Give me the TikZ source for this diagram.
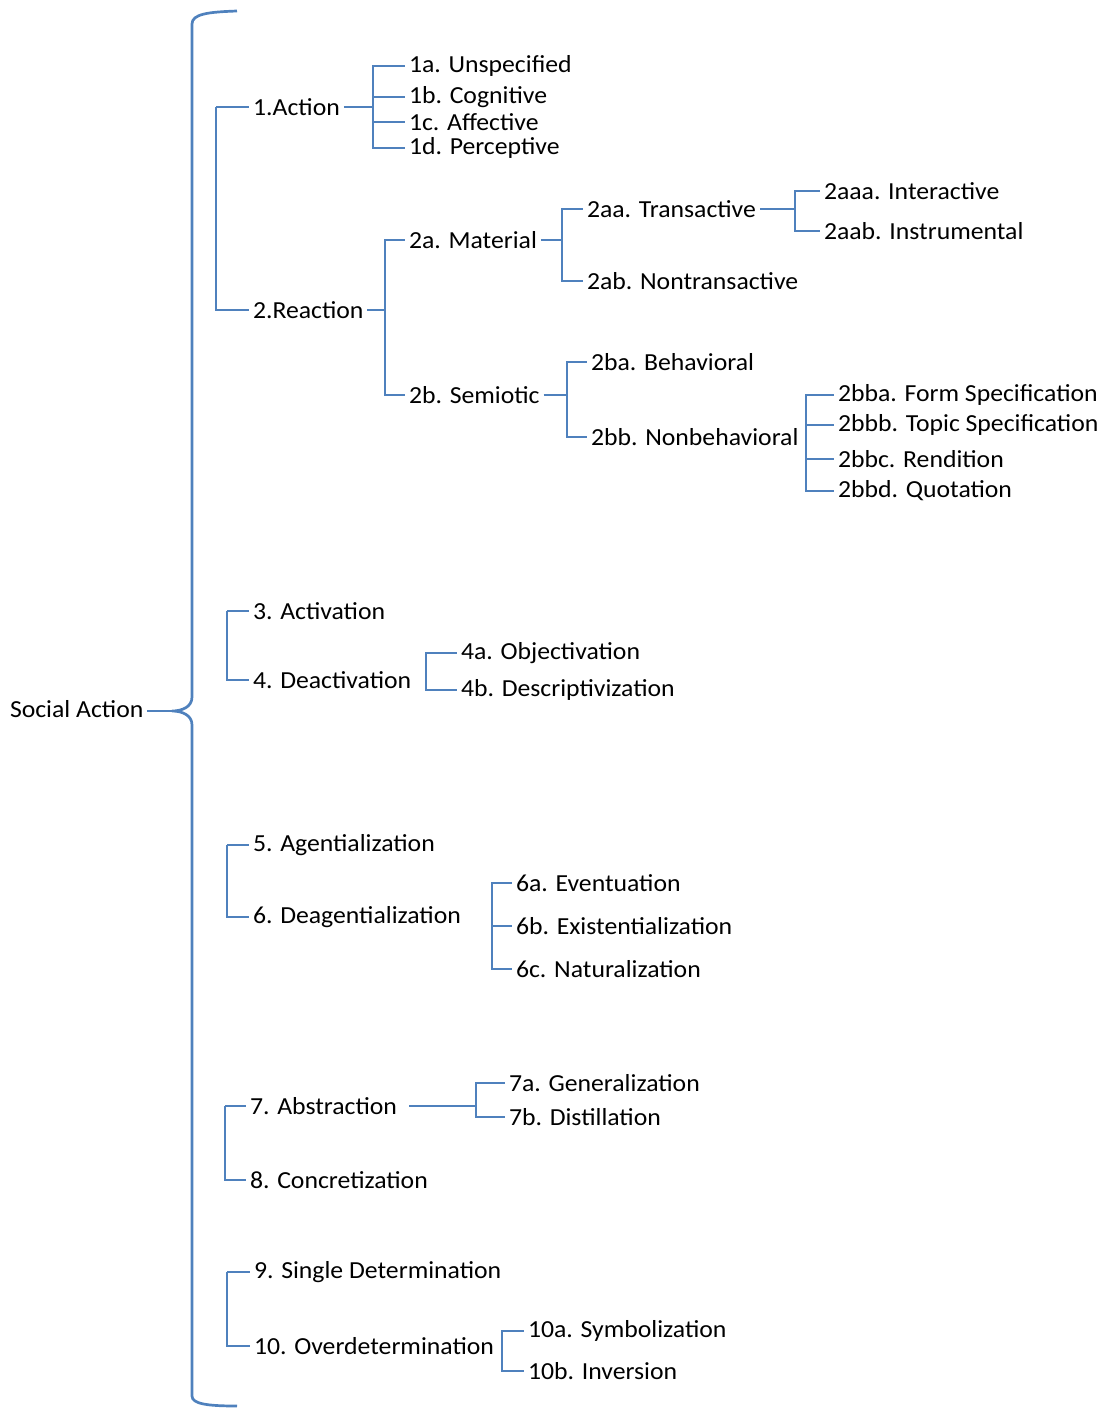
\documentclass[tikz,border=0pt]{standalone}
\usepackage{fontspec}
\setmainfont{Carlito}[FakeStretch=1.05]
\usetikzlibrary{positioning}
\definecolor{linkblue}{RGB}{79,129,189}

\begin{document}
\begin{tikzpicture}[x=1pt,y=-1pt,line width=2.7pt,
		every node/.style={anchor=west,inner xsep=4pt,inner ysep=2pt,outer sep=0pt,
		font=\fontsize{24.5}{28}\selectfont}]
		\tikzstyle{link}=[draw=linkblue,line width=2.7pt]
		\useasboundingbox (0,0) rectangle (1112,1408);

		% root and brace
		\node (sa) at (6,709) {Social Action};
		\coordinate (tip) at (172,711);
		\draw[link] (237,11) .. controls (208,12) and (192,14) .. (192,24) -- (192,697)
			.. controls (192,707) and (182,711) .. (tip)
			.. controls (182,711) and (192,715) .. (192,725) -- (192,1396)
			.. controls (192,1404) and (208,1406) .. (237,1406);
		\draw[link] (sa.east |- tip) -- (tip);

		% 1 / 2
		\node (1)    at (249,107) {1.Action};
		\node (2)    at (249,310) {2.Reaction};
		\node (1a)   at (405,66)  {1a. Unspecified};
		\node (1b)   at (405,97)  {1b. Cognitive};
		\node (1c)   at (405,122) {1c. Affective};
		\node (1d)   at (405,148) {1d. Perceptive};
		\node (2a)   at (405,240) {2a. Material};
		\node (2b)   at (405,395) {2b. Semiotic};
		\node (2aa)  at (583,209) {2aa. Transactive};
		\node (2ab)  at (583,281) {2ab. Nontransactive};
		\node (2aaa) at (820,191) {2aaa. Interactive};
		\node (2aab) at (820,231) {2aab. Instrumental};
		\node (2ba)  at (587,362) {2ba. Behavioral};
		\node (2bb)  at (587,437) {2bb. Nonbehavioral};
		\node (2bba) at (834,395) {2bba. Form Specification};
		\node (2bbb) at (834,425) {2bbb. Topic Specification};
		\node (2bbc) at (834,459) {2bbc. Rendition};
		\node (2bbd) at (834,491) {2bbd. Quotation};

		% 3 / 4
		\node (3)    at (249,611) {3. Activation};
		\node (4)    at (249,680) {4. Deactivation};
		\node (4a)   at (457,653) {4a. Objectivation};
		\node (4b)   at (457,690) {4b. Descriptivization};

		% 5 / 6
		\node (5)    at (249,845) {5. Agentialization};
		\node (6)    at (249,917) {6. Deagentialization};
		\node (6a)   at (512,883) {6a. Eventuation};
		\node (6b)   at (512,926) {6b. Existentialization};
		\node (6c)   at (512,969) {6c. Naturalization};

		% 7 / 8
		\node (7)    at (246,1106) {7. Abstraction};
		\node (8)    at (246,1180) {8. Concretization};
		\node (7a)   at (505,1083) {7a. Generalization};
		\node (7b)   at (505,1117) {7b. Distillation};

		% 9 / 10
		\node (9)    at (250,1272) {9. Single Determination};
		\node (10)   at (250,1346) {10. Overdetermination};
		\node (10a)  at (524,1331) {10a. Symbolization};
		\node (10b)  at (524,1371) {10b. Inversion};

		% bracket spines
		\coordinate (spA)   at (216,107);
		\coordinate (sp1)   at (373,107);
		\coordinate (sp2)   at (385,310);
		\coordinate (sp2a)  at (562,240);
		\coordinate (sp2aa) at (795,209);
		\coordinate (sp2b)  at (567,395);
		\coordinate (sp2bb) at (806,437);
		\coordinate (spB)   at (227,611);
		\coordinate (sp4)   at (426,680);
		\coordinate (spC)   at (227,845);
		\coordinate (sp6)   at (492,917);
		\coordinate (spD)   at (225,1106);
		\coordinate (sp7)   at (476,1106);
		\coordinate (spE)   at (227,1272);
		\coordinate (sp10)  at (502,1346);

		% connectors
		\draw[link] (1.east) -- (sp1);
		\draw[link] (2.east) -- (sp2);
		\draw[link] (2a.east) -- (sp2a);
		\draw[link] (2aa.east) -- (sp2aa);
		\draw[link] (2b.east) -- (sp2b);
		\draw[link] (7.east) ++(8,0) -- (sp7);

		\foreach \s/\c in {spA/1,spA/2,sp1/1a,sp1/1b,sp1/1c,sp1/1d,sp2/2a,sp2/2b,
			sp2a/2aa,sp2a/2ab,sp2aa/2aaa,sp2aa/2aab,sp2b/2ba,sp2b/2bb,
			sp2bb/2bba,sp2bb/2bbb,sp2bb/2bbc,sp2bb/2bbd,spB/3,spB/4,sp4/4a,sp4/4b,
			spC/5,spC/6,sp6/6a,sp6/6b,sp6/6c,spD/7,spD/8,sp7/7a,sp7/7b,
			spE/9,spE/10,sp10/10a,sp10/10b}
			\draw[link] (\s) |- (\c.west);
\end{tikzpicture}
\end{document}
